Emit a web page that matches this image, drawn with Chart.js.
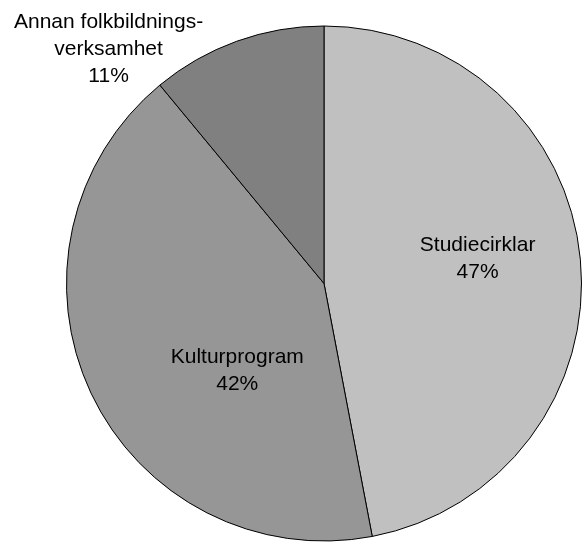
<!DOCTYPE html>
<html>
<head>
<meta charset="utf-8">
<script src="https://cdn.jsdelivr.net/npm/chart.js@4/dist/chart.umd.min.js"></script>
<style>
html,body{margin:0;padding:0;background:#fff;overflow:hidden;}
#wrap{width:582px;height:542px;position:relative;}
</style>
</head>
<body>
<div id="wrap"><canvas id="c" width="582" height="542"></canvas></div>
<script>
const categories = ["Studiecirklar", "Kulturprogram", "Annan folkbildningsverksamhet"];
const labelLines = [["Studiecirklar"], ["Kulturprogram"], ["Annan folkbildnings-", "verksamhet"]];
const values = [47, 42, 11];
const colors = ["#c0c0c0", "#969696", "#808080"];
// label anchor: angle (deg, canvas) and radius fraction relative to pie
const labelAngles = [-9.0, 134.8, -132.6];
const labelRadii = [0.604, 0.478, 1.236];

const labelPlugin = {
  id: 'pieLabels',
  afterDatasetsDraw(chart) {
    const ctx = chart.ctx;
    const meta = chart.getDatasetMeta(0);
    const total = values.reduce((a, b) => a + b, 0);
    ctx.save();
    ctx.font = '21px "Liberation Sans", Arial, sans-serif';
    ctx.fillStyle = '#000';
    ctx.textAlign = 'center';
    ctx.textBaseline = 'middle';
    const lh = 27;
    meta.data.forEach((arc, i) => {
      const p = arc.getProps(['x', 'y', 'outerRadius']);
      const a = labelAngles[i] * Math.PI / 180;
      const cx = p.x + Math.cos(a) * p.outerRadius * labelRadii[i];
      const cy = p.y + Math.sin(a) * p.outerRadius * labelRadii[i];
      const lines = labelLines[i].concat([Math.round(values[i] / total * 100) + '%']);
      const y0 = cy - (lines.length - 1) * lh / 2;
      lines.forEach((t, k) => ctx.fillText(t, cx, y0 + k * lh));
    });
    ctx.restore();
  }
};

new Chart(document.getElementById('c'), {
  type: 'pie',
  data: {
    labels: categories,
    datasets: [{
      data: values,
      backgroundColor: colors,
      borderColor: '#000',
      borderWidth: 1
    }]
  },
  options: {
    responsive: false,
    animation: false,
    layout: { padding: { left: 66, right: 0, top: 25, bottom: 0 } },
    plugins: { legend: { display: false }, tooltip: { enabled: false } }
  },
  plugins: [labelPlugin]
});
</script>
</body>
</html>
